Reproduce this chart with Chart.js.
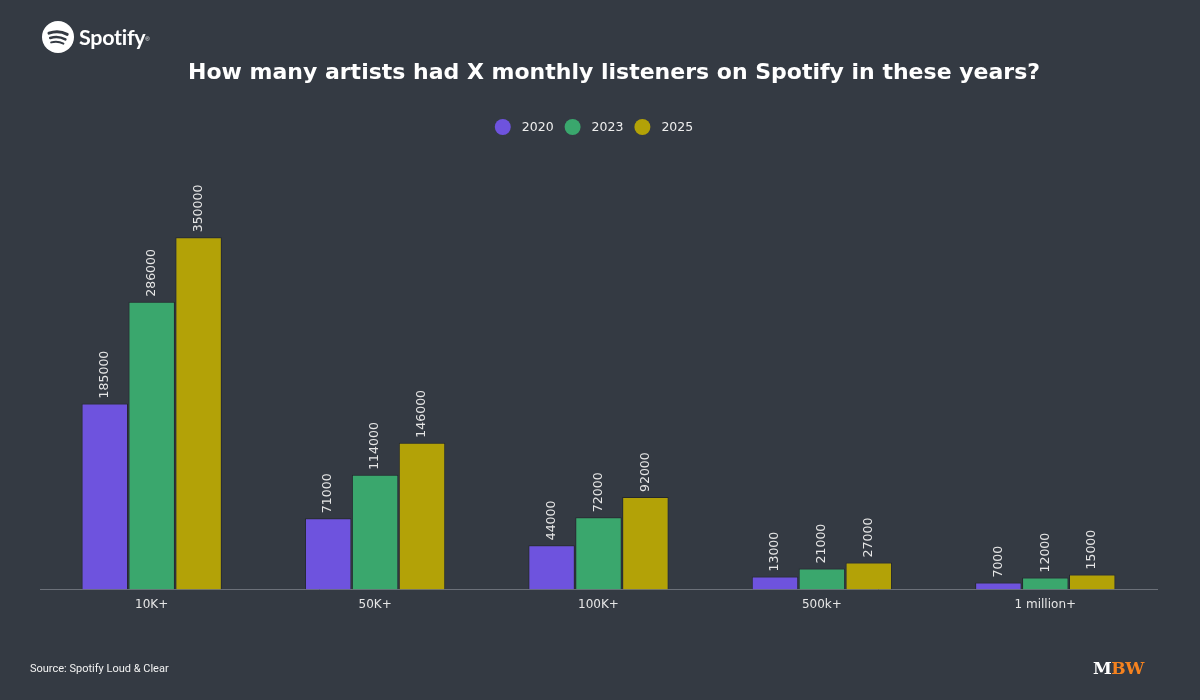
<!DOCTYPE html>
<html>
<head>
<meta charset="utf-8">
<script src="https://cdn.jsdelivr.net/npm/chart.js@4.4.1/dist/chart.umd.min.js"></script>
<style>
  html, body { margin: 0; padding: 0; background: #343a43; }
  #wrap { position: relative; width: 1200px; height: 700px; background: #343a43; overflow: hidden; }
  #c { position: absolute; left: 0; top: 0; }
  #logo { position: absolute; left: 42px; top: 21px; display: flex; align-items: center; }
  #logo span { color: #fff; font-family: Lato, "Open Sans", sans-serif; font-weight: 700; font-size: 21.5px; margin-left: 5px; letter-spacing: -0.3px; }
  #logo sup { font-size: 6px; color: #fff; font-family: Arial, sans-serif; vertical-align: top; position: relative; top: 2px; }
  #source { position: absolute; left: 30px; top: 662px; color: #f2f2f2; font-family: Roboto, sans-serif; font-size: 11px; }
  #mbw { position: absolute; left: 1093px; top: 658px; font-family: "DejaVu Serif", serif; font-weight: 900; font-size: 17px; letter-spacing: -0.5px; }
  #mbw .m { color: #ffffff; }
  #mbw .bw { color: #f5821f; }
</style>
</head>
<body>
<div id="wrap">
  <canvas id="c" width="1200" height="700"></canvas>
  <div id="logo">
    <svg width="32" height="32" viewBox="0 0 32 32">
      <circle cx="16" cy="16" r="16" fill="#ffffff"/>
      <path d="M7 12.2 C12.5 10.2 20 10.6 25.2 13.4" stroke="#343a43" stroke-width="3" fill="none" stroke-linecap="round"/>
      <path d="M8.2 17 C13 15.5 19 16 23.4 18.4" stroke="#343a43" stroke-width="2.5" fill="none" stroke-linecap="round"/>
      <path d="M9.2 21.4 C13.2 20.3 17.8 20.7 21.4 22.6" stroke="#343a43" stroke-width="2" fill="none" stroke-linecap="round"/>
    </svg>
    <span>Spotify</span><sup>®</sup>
  </div>
  <div id="source">Source: Spotify Loud &amp; Clear</div>
  <div id="mbw"><span class="m">M</span><span class="bw">BW</span></div>
</div>
<script>
const titleText = 'How many artists had X monthly listeners on Spotify in these years?';
const categories = ['10K+', '50K+', '100K+', '500k+', '1 million+'];
const seriesNames = ['2020', '2023', '2025'];
const values2020 = [185000, 71000, 44000, 13000, 7000];
const values2023 = [286000, 114000, 72000, 21000, 12000];
const values2025 = [350000, 146000, 92000, 27000, 15000];
const seriesColors = ['#6e53de', '#3aa76d', '#b3a207'];

const valueLabels = {
  id: 'valueLabels',
  afterDatasetsDraw(chart) {
    const ctx = chart.ctx;
    ctx.save();
    ctx.font = '12.5px "DejaVu Sans", sans-serif';
    ctx.fillStyle = '#e6e6e6';
    ctx.textAlign = 'left';
    ctx.textBaseline = 'middle';
    chart.data.datasets.forEach((ds, i) => {
      const meta = chart.getDatasetMeta(i);
      meta.data.forEach((bar, j) => {
        ctx.save();
        ctx.translate(bar.x, bar.y - 5);
        ctx.rotate(-Math.PI / 2);
        ctx.fillText(String(ds.data[j]), 0, 0);
        ctx.restore();
      });
    });
    ctx.restore();
  }
};

// Title and legend drawn in the reserved top band
const headerPlugin = {
  id: 'headerPlugin',
  afterDraw(chart) {
    const ctx = chart.ctx;
    ctx.save();
    ctx.font = 'bold 22px "DejaVu Sans", sans-serif';
    ctx.fillStyle = '#ffffff';
    ctx.textAlign = 'center';
    ctx.textBaseline = 'middle';
    ctx.fillText(titleText, 614, 73);

    ctx.font = '12.5px "DejaVu Sans", sans-serif';
    ctx.textAlign = 'left';
    const r = 8, gapText = 11, gapItem = 11, y = 127, centre = 594;
    const items = chart.data.datasets.map(ds => ({
      label: ds.label, color: ds.backgroundColor,
      w: r * 2 + gapText + ctx.measureText(ds.label).width
    }));
    const total = items.reduce((s, it) => s + it.w, 0) + gapItem * (items.length - 1);
    let x = centre - total / 2;
    items.forEach(it => {
      ctx.fillStyle = it.color;
      ctx.beginPath();
      ctx.arc(x + r, y, r, 0, Math.PI * 2);
      ctx.fill();
      ctx.fillStyle = '#eeeeee';
      ctx.fillText(it.label, x + r * 2 + gapText, y + 0.5);
      x += it.w + gapItem;
    });
    ctx.restore();
  }
};

const data = {
  labels: categories,
  datasets: [values2020, values2023, values2025].map((v, i) => ({
    label: seriesNames[i],
    data: v,
    backgroundColor: seriesColors[i],
    borderColor: 'rgba(0,0,0,0.3)',
    borderWidth: 1,
    categoryPercentage: 0.63,
    barPercentage: 0.99
  }))
};

new Chart(document.getElementById('c'), {
  type: 'bar',
  data,
  plugins: [valueLabels, headerPlugin],
  options: {
    responsive: false,
    animation: false,
    devicePixelRatio: 1,
    layout: { padding: { left: 40, right: 43, top: 187, bottom: 80 } },
    plugins: {
      title: { display: false },
      legend: { display: false },
      tooltip: { enabled: false }
    },
    scales: {
      x: {
        grid: { display: false, drawTicks: false },
        border: { color: '#6b7079', width: 1 },
        ticks: {
          color: '#e6e6e6',
          font: { family: '"DejaVu Sans", sans-serif', size: 12 },
          padding: 8
        }
      },
      y: {
        display: false,
        min: 0,
        max: 400000
      }
    }
  }
});
</script>
</body>
</html>
